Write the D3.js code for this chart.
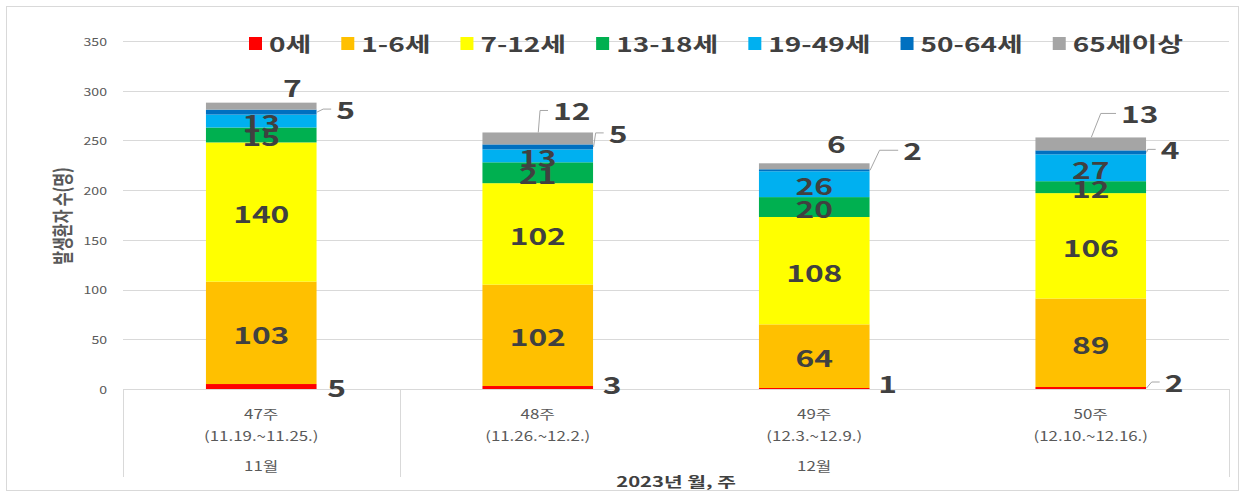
<!DOCTYPE html>
<html>
<head>
<meta charset="utf-8">
<script src="https://cdn.jsdelivr.net/npm/d3@7"></script>
<style>
  body { margin: 0; background: #fff; }
  text { font-family: "Noto Sans CJK KR", "Noto Sans", sans-serif; }
</style>
</head>
<body>
<div class="chart"></div>
<script>
/* global d3 */
var weeks = ["47주", "48주", "49주", "50주"];
var weekRanges = ["(11.19.~11.25.)", "(11.26.~12.2.)", "(12.3.~12.9.)", "(12.10.~12.16.)"];
var months = ["11월", "12월"];
var monthSpans = [1, 3];
var ageGroups = ["0세", "1-6세", "7-12세", "13-18세", "19-49세", "50-64세", "65세이상"];
var ageColors = ["#FF0000", "#FFC000", "#FFFF00", "#00B050", "#00B0F0", "#0070C0", "#A5A5A5"];

var age0 = [5, 3, 1, 2];
var age1to6 = [103, 102, 64, 89];
var age7to12 = [140, 102, 108, 106];
var age13to18 = [15, 21, 20, 12];
var age19to49 = [13, 13, 26, 27];
var age50to64 = [5, 5, 2, 4];
var age65 = [7, 12, 6, 13];

var yTicks = [0, 50, 100, 150, 200, 250, 300, 350];

var width = 1245, height = 492;
var sx = 1.38; // the picture is stretched sideways
var labelColor = "#404040";

var svg = d3.select(".chart").append("svg")
  .attr("width", width)
  .attr("height", height);

svg.append("rect")
  .attr("x", 6.5).attr("y", 6.5)
  .attr("width", 1232).attr("height", 484)
  .attr("fill", "#fff").attr("stroke", "#D9D9D9");

var x = d3.scaleBand().domain(weeks).range([123, 1229])
  .paddingInner(0.6).paddingOuter(0.3);
var y = d3.scaleLinear().domain([0, 350]).range([389, 41]);

function addText(g, px, py, str, size, weight, color, anchor, scale) {
  return g.append("text")
    .attr("transform", "translate(" + px + "," + py + ") scale(" + (scale || sx) + ",1)")
    .attr("text-anchor", anchor || "middle")
    .attr("dominant-baseline", "central")
    .style("font-size", size + "px")
    .style("font-weight", weight)
    .attr("fill", color)
    .text(str);
}

// gridlines + y ticks
svg.selectAll(".grid").data(yTicks).enter().append("line")
  .attr("x1", 123).attr("x2", 1229)
  .attr("y1", function(d) { return Math.round(y(d)) + 0.5; })
  .attr("y2", function(d) { return Math.round(y(d)) + 0.5; })
  .attr("stroke", "#D9D9D9");

yTicks.forEach(function(t) {
  addText(svg, 107, y(t), t, 11, 400, "#595959", "end", 1.28);
});

// y title
svg.append("text")
  .attr("transform", "translate(61,216) scale(1.4,1) rotate(-90)")
  .attr("text-anchor", "middle")
  .attr("dominant-baseline", "central")
  .style("font-size", "15px").style("font-weight", 700)
  .attr("fill", "#595959")
  .text("발생환자 수(명)");

// stacked bars
var table = weeks.map(function(w, i) {
  var row = { week: w };
  [age0, age1to6, age7to12, age13to18, age19to49, age50to64, age65].forEach(function(s, k) {
    row[ageGroups[k]] = s[i];
  });
  return row;
});
var series = d3.stack().keys(ageGroups)(table);

svg.selectAll(".layer").data(series).enter().append("g")
  .attr("fill", function(d, i) { return ageColors[i]; })
  .selectAll("rect").data(function(d) { return d; }).enter().append("rect")
  .attr("x", function(d) { return x(d.data.week); })
  .attr("width", x.bandwidth())
  .attr("y", function(d) { return y(d[1]); })
  .attr("height", function(d) { return y(d[0]) - y(d[1]); });

// inside labels
var labels = svg.append("g");
[1, 2, 3, 4].forEach(function(k) {
  series[k].forEach(function(d) {
    addText(labels, x(d.data.week) + x.bandwidth() / 2, y((d[0] + d[1]) / 2) + 1,
      d[1] - d[0], 23, 700, labelColor);
  });
});

// outside labels: offsets from anchor, and whether a leader line is drawn
var outside = [
  { k: 0, at: "right", off: [[20, 1], [19, -3], [18, -5], [28, -6]], lead: [0, 0, 0, 1] },
  { k: 5, at: "right", off: [[29, -3], [25, -14], [43, -20], [24, -3]], lead: [1, 1, 1, 1] },
  { k: 6, at: "top", off: [[31, -16], [34, -22], [22, -20], [49, -24]], lead: [0, 1, 0, 1] }
];

outside.forEach(function(o) {
  series[o.k].forEach(function(d, i) {
    var ax, ay;
    if (o.at === "right") {
      ax = x(d.data.week) + x.bandwidth();
      ay = y((d[0] + d[1]) / 2);
    } else {
      ax = x(d.data.week) + x.bandwidth() / 2;
      ay = y(d[1]);
    }
    var lx = ax + o.off[i][0], ly = ay + o.off[i][1];
    var t = addText(labels, lx, ly, d[1] - d[0], 23, 700, labelColor);
    if (o.lead[i]) {
      var half = t.node().getComputedTextLength() * sx / 2;
      var ex = lx - half - 5;
      svg.append("path")
        .attr("d", d3.line()([[ax + 0.5, ay], [Math.min(ex - 8, ax + 10), ly], [ex, ly]]))
        .attr("fill", "none")
        .attr("stroke", "#A6A6A6")
        .attr("stroke-width", 1);
    }
  });
});

// category axis (two levels)
var axisG = svg.append("g");
var sepX = [123, x.step() * monthSpans[0] + 123, 1229];
sepX.forEach(function(sx0) {
  axisG.append("line")
    .attr("x1", Math.round(sx0) + 0.5).attr("x2", Math.round(sx0) + 0.5)
    .attr("y1", 389).attr("y2", 477)
    .attr("stroke", "#D9D9D9");
});
weeks.forEach(function(w, i) {
  var cx = x(w) + x.bandwidth() / 2;
  addText(axisG, cx, 413, w, 13, 400, "#595959", "middle", 1.3);
  addText(axisG, cx, 435, weekRanges[i], 13, 400, "#595959", "middle", 1.3);
});
var start = 0;
months.forEach(function(m, i) {
  var x0 = 123 + x.step() * start;
  var x1 = 123 + x.step() * (start + monthSpans[i]);
  addText(axisG, (x0 + x1) / 2, 465, m, 13, 400, "#595959", "middle", 1.3);
  start += monthSpans[i];
});
addText(axisG, 676, 481, "2023년 월, 주", 14, 700, "#404040", "middle", 1.45);

// legend
var legend = svg.append("g");
var lx0 = 249;
ageGroups.forEach(function(a, i) {
  legend.append("rect")
    .attr("x", lx0).attr("y", 37)
    .attr("width", 13).attr("height", 13)
    .attr("fill", ageColors[i]);
  var t = addText(legend, lx0 + 20, 43, a, 20, 700, "#404040", "start", 1.4);
  lx0 += 20 + t.node().getComputedTextLength() * 1.4 + 30;
});
</script>
</body>
</html>
